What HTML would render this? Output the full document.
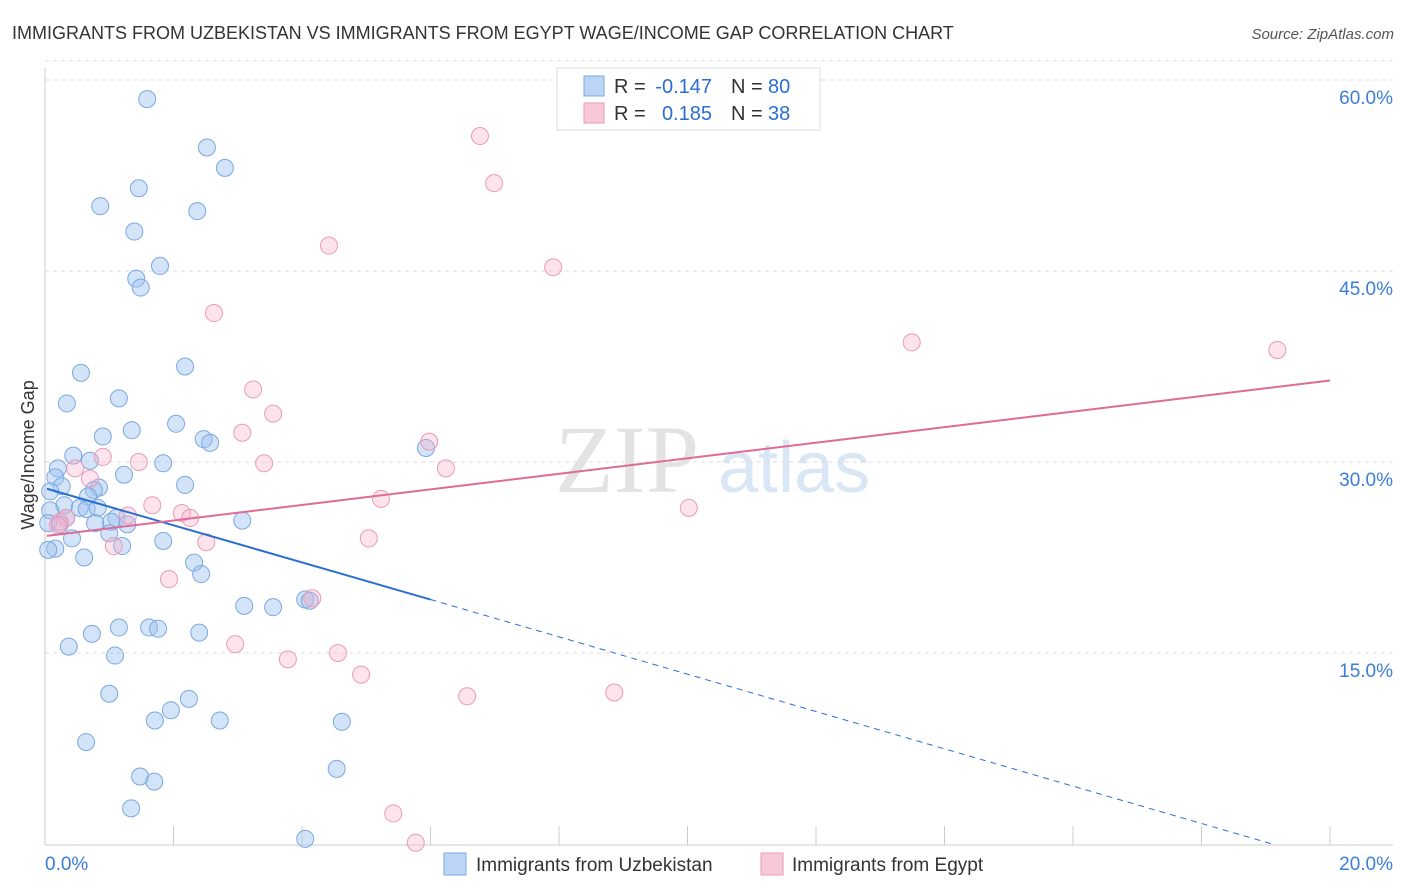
<!DOCTYPE html>
<html><head><meta charset="utf-8"><style>
body{margin:0;background:#fff;font-family:"Liberation Sans",sans-serif;}
svg{display:block}
</style></head><body>
<svg id="chart" width="1406" height="892" xmlns="http://www.w3.org/2000/svg">
<text x="12" y="39" font-size="18" fill="#333">IMMIGRANTS FROM UZBEKISTAN VS IMMIGRANTS FROM EGYPT WAGE/INCOME GAP CORRELATION CHART</text>
<text x="1394" y="39" font-size="15" fill="#555" text-anchor="end" font-style="italic">Source: ZipAtlas.com</text>
<text x="555" y="492" font-size="96" fill="#ddd" font-family="Liberation Serif,serif" opacity="0.8">ZIP</text>
<text x="718" y="492" font-size="72" fill="#cfe0f3" opacity="0.8">atlas</text>
<g id="grid"></g><g id="axes"></g><g id="marks"></g>
<text transform="translate(34,455) rotate(-90)" font-size="18" fill="#333" text-anchor="middle">Wage/Income Gap</text>
<g>
<rect x="557" y="68" width="263" height="62" fill="#fff" stroke="#ddd"/>
<rect x="584" y="76" width="20" height="20" fill="#bcd5f5" stroke="#7aa8e0"/>
<rect x="584" y="103" width="20" height="20" fill="#f9c8d8" stroke="#eb9ab8"/>
<text x="614" y="93" font-size="20" fill="#333">R =</text>
<text x="712" y="93" font-size="20" fill="#2a6fd0" text-anchor="end">-0.147</text>
<text x="731" y="93" font-size="20" fill="#333">N =</text>
<text x="768" y="93" font-size="20" fill="#2a6fd0">80</text>
<text x="614" y="120" font-size="20" fill="#333">R =</text>
<text x="712" y="120" font-size="20" fill="#2a6fd0" text-anchor="end">0.185</text>
<text x="731" y="120" font-size="20" fill="#333">N =</text>
<text x="768" y="120" font-size="20" fill="#2a6fd0">38</text>
</g>
<g>
<rect x="444" y="853" width="22" height="22" fill="#bcd5f5" stroke="#7aa8e0"/>
<text x="476" y="871" font-size="19" fill="#333">Immigrants from Uzbekistan</text>
<rect x="761" y="853" width="22" height="22" fill="#f9c8d8" stroke="#eb9ab8"/>
<text x="792" y="871" font-size="19" fill="#333">Immigrants from Egypt</text>
</g>
</svg>
<script>
const yTicks=[15,30,45,60];
const yTickLabels=["15.0%","30.0%","45.0%","60.0%"];
const xTickVals=[0,2,4,6,8,10,12,14,16,18,20];
const blueX=[1.59,2.52,2.80,1.46,0.86,2.37,1.39,1.79,1.42,1.49,0.56,2.18,1.15,0.34,1.35,0.90,2.04,2.47,2.57,5.93,0.44,0.70,1.84,0.20,1.23,0.16,2.18,0.84,0.26,0.76,0.08,0.67,0.30,0.54,0.65,0.82,0.08,0.33,1.11,1.03,3.07,0.78,1.28,0.05,0.23,1.00,0.42,1.84,1.20,0.16,0.05,0.61,2.32,2.43,4.05,4.12,3.10,3.55,1.62,1.76,1.15,0.73,2.40,0.37,1.09,1.00,2.24,1.96,1.71,2.72,4.62,0.64,1.48,1.70,4.54,1.34,4.05];
const blueY=[58.5,54.7,53.1,51.5,50.1,49.7,48.1,45.4,44.4,43.7,37.0,37.5,35.0,34.6,32.5,32.0,33.0,31.8,31.5,31.1,30.5,30.1,29.9,29.5,29.0,28.8,28.2,28.0,28.1,27.8,27.7,27.3,26.6,26.4,26.3,26.4,26.2,25.6,25.6,25.3,25.4,25.2,25.1,25.2,25.1,24.4,24.0,23.8,23.4,23.2,23.1,22.5,22.1,21.2,19.2,19.1,18.7,18.6,17.0,16.9,17.0,16.5,16.6,15.5,14.8,11.8,11.4,10.5,9.7,9.7,9.6,8.0,5.3,4.9,5.9,2.8,0.4];
const pinkX=[6.77,6.99,4.42,7.91,2.63,13.49,19.18,3.24,3.55,3.07,5.98,0.90,1.46,3.41,6.24,0.47,0.70,5.23,1.67,10.02,2.13,2.26,1.29,0.33,0.23,0.20,2.51,1.07,5.04,1.93,4.16,2.96,3.78,4.56,4.92,6.57,8.86,5.42,5.77];
const pinkY=[55.6,51.9,47.0,45.3,41.7,39.4,38.8,35.7,33.8,32.3,31.6,30.4,30.0,29.9,29.5,29.5,28.7,27.1,26.6,26.4,26.0,25.6,25.8,25.6,25.3,25.0,23.7,23.4,24.0,20.8,19.3,15.7,14.5,15.0,13.3,11.6,11.9,2.4,0.1];
const blueTrend=[[0.03,27.9],[6.0,19.2],[19.1,0]];
const pinkTrend=[[0.03,24.2],[20,36.4]];
const NS="http://www.w3.org/2000/svg";
const sx=v=>45+v*64.25, sy=v=>844-v*12.733;
function mk(t,a,p){const e=document.createElementNS(NS,t);for(const k in a)e.setAttribute(k,a[k]);p.appendChild(e);return e;}
const gridG=document.getElementById('grid'),axesG=document.getElementById('axes'),marksG=document.getElementById('marks');
yTicks.forEach((v,i)=>{
 const l=mk('line',{x1:45,x2:1393,y1:sy(v),y2:sy(v),stroke:'#ddd','stroke-dasharray':'4,4'},gridG);
 
 
 const t=mk('text',{x:1393,y:sy(v)+24,'font-size':19,fill:'#3b7dd8','text-anchor':'end'},axesG);
 t.textContent=yTickLabels[i];
 
 
});
const topGrid=mk('line',{x1:45,x2:1393,y1:sy(61.5),y2:sy(61.5),stroke:'#ddd','stroke-dasharray':'4,4'},gridG);


const ya=mk('line',{x1:45,x2:45,y1:68,y2:845,stroke:'#ccc'},axesG);


const xa=mk('line',{x1:45,x2:1393,y1:845,y2:845,stroke:'#ccc'},axesG);


xTickVals.forEach(v=>{const l=mk('line',{x1:sx(v),x2:sx(v),y1:826,y2:845,stroke:'#ccc'},axesG);
 
 });
const xl=mk('text',{x:45,y:870,'font-size':19,fill:'#3b7dd8'},axesG);xl.textContent='0.0%';


const xr=mk('text',{x:1393,y:870,'font-size':19,fill:'#3b7dd8','text-anchor':'end'},axesG);xr.textContent='20.0%';


blueX.forEach((x,i)=>{const c=mk('circle',{cx:sx(x),cy:sy(blueY[i]),r:8.5,fill:'rgba(160,196,240,0.45)',stroke:'#7aa8e0','stroke-width':1},marksG);
 
 });
pinkX.forEach((x,i)=>{const c=mk('circle',{cx:sx(x),cy:sy(pinkY[i]),r:8.5,fill:'rgba(245,175,200,0.35)',stroke:'#eb9ab8','stroke-width':1},marksG);
 
 });
const b1=mk('line',{x1:sx(blueTrend[0][0]),y1:sy(blueTrend[0][1]),x2:sx(blueTrend[1][0]),y2:sy(blueTrend[1][1]),stroke:'#2a6fd0','stroke-width':2},marksG);


const b2=mk('line',{x1:sx(blueTrend[1][0]),y1:sy(blueTrend[1][1]),x2:sx(blueTrend[2][0]),y2:sy(blueTrend[2][1]),stroke:'#2a6fd0','stroke-width':1,'stroke-dasharray':'6,5'},marksG);


const p1=mk('line',{x1:sx(pinkTrend[0][0]),y1:sy(pinkTrend[0][1]),x2:sx(pinkTrend[1][0]),y2:sy(pinkTrend[1][1]),stroke:'#e06a96','stroke-width':2},marksG);


</script>
</body></html>
